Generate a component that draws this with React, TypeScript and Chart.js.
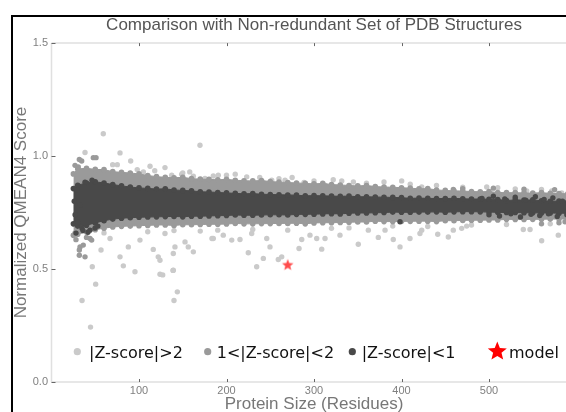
import React, { useEffect, useRef } from "react";
import { Chart, registerables } from "chart.js";

Chart.register(...registerables);

// ---------- data ----------
const xTickValues = [100, 200, 300, 400, 500];
const yTickValues = [0, 0.5, 1.0, 1.5];

// band sample positions (residues)
const bandX = [25, 30, 40, 50, 60, 70, 80, 90, 100, 110, 120, 130, 140, 150, 160, 170, 180, 190, 200, 210, 220, 230, 240, 250, 260, 270, 280, 290, 300, 310, 320, 330, 340, 350, 360, 370, 380, 390, 400, 410, 420, 430, 440, 450, 460, 470, 480, 490, 500, 510, 520, 530, 540, 550, 560, 570, 580, 590, 600];

// |Z-score|<1 core band edges
const darkTop = [0.856, 0.871, 0.881, 0.886, 0.881, 0.874, 0.868, 0.863, 0.859, 0.857, 0.854, 0.855, 0.85, 0.848, 0.846, 0.842, 0.841, 0.839, 0.837, 0.835, 0.833, 0.834, 0.831, 0.83, 0.829, 0.828, 0.827, 0.824, 0.825, 0.824, 0.823, 0.822, 0.823, 0.82, 0.82, 0.819, 0.818, 0.817, 0.816, 0.813, 0.814, 0.813, 0.812, 0.812, 0.813, 0.811, 0.81, 0.81, 0.809, 0.808, 0.803, 0.806, 0.805, 0.806, 0.802, 0.8, 0.801, 0.797, 0.795];
const darkBottom = [0.7, 0.69, 0.694, 0.704, 0.714, 0.721, 0.725, 0.727, 0.729, 0.73, 0.731, 0.732, 0.733, 0.731, 0.734, 0.734, 0.735, 0.736, 0.737, 0.739, 0.738, 0.738, 0.739, 0.74, 0.74, 0.739, 0.742, 0.742, 0.743, 0.744, 0.745, 0.744, 0.747, 0.748, 0.748, 0.749, 0.75, 0.752, 0.751, 0.751, 0.752, 0.752, 0.753, 0.751, 0.753, 0.754, 0.754, 0.753, 0.752, 0.751, 0.75, 0.75, 0.749, 0.749, 0.748, 0.748, 0.747, 0.747, 0.746];

// 1<|Z-score|<2 band edges
const medTop = [0.921, 0.943, 0.946, 0.941, 0.94, 0.931, 0.928, 0.925, 0.921, 0.914, 0.909, 0.906, 0.904, 0.906, 0.9, 0.898, 0.897, 0.895, 0.897, 0.893, 0.891, 0.89, 0.892, 0.887, 0.885, 0.883, 0.881, 0.879, 0.877, 0.879, 0.874, 0.872, 0.87, 0.868, 0.87, 0.865, 0.863, 0.862, 0.86, 0.858, 0.855, 0.856, 0.85, 0.848, 0.846, 0.845, 0.843, 0.842, 0.843, 0.839, 0.838, 0.838, 0.837, 0.836, 0.838, 0.835, 0.834, 0.833, 0.833];
const medBottom = [0.649, 0.654, 0.664, 0.674, 0.681, 0.686, 0.689, 0.69, 0.692, 0.693, 0.695, 0.695, 0.693, 0.696, 0.696, 0.697, 0.698, 0.698, 0.699, 0.702, 0.7, 0.7, 0.701, 0.701, 0.702, 0.702, 0.703, 0.7, 0.704, 0.705, 0.705, 0.706, 0.707, 0.708, 0.708, 0.712, 0.71, 0.71, 0.711, 0.711, 0.712, 0.712, 0.71, 0.714, 0.714, 0.715, 0.716, 0.716, 0.717, 0.717, 0.72, 0.719, 0.719, 0.72, 0.72, 0.721, 0.721, 0.722, 0.722];

// |Z-score|>2 points
const lightX = [59.2, 38.3, 78.3, 90.5, 69.9, 75.2, 112.6, 169.7, 129.7, 137.4, 148.8, 162.1, 175.4, 184.9, 190.6, 223.1, 251.7, 266.9, 288.6, 312.6, 331.7, 400.2, 423.1, 497.4, 543.1, 571.7, 583.1, 98,
  105, 118, 150, 158, 200, 210, 238, 260, 275, 300, 322, 345, 360, 380, 410, 440, 470, 510, 530, 560, 595,
  56.6, 78.3, 82.1, 95.4, 46.6, 50.5, 34.9, 44.6, 124, 127.1, 138.9, 143.8, 140, 116.3, 129.7, 141.1, 139.2, 156.3, 162.1, 152.6, 184.9, 196.3, 206, 215.4, 224.9, 228.8, 246, 249.7, 242.1, 234.5, 259.2, 263.1, 124, 139.2, 183.4, 282.9, 308.8, 286, 295.4, 303.1, 312.6, 329.7, 350.6, 362.1, 373.5, 381.2, 390.6, 398.3, 409.7, 421.1, 441.4, 453.5, 459.2, 468.8, 474.5, 539.2, 546.9, 560.2, 579.2, 423.1, 66.9, 87.8, 101.1, 122,
  60, 110, 140, 170, 190, 230, 270, 320, 340, 390, 430, 480, 520, 570, 600];
const lightY = [1.099, 1.016, 1.014, 0.978, 0.962, 0.962, 0.955, 1.048, 0.949, 0.915, 0.92, 0.911, 0.901, 0.912, 0.915, 0.908, 0.893, 0.893, 0.883, 0.871, 0.89, 0.89, 0.863, 0.863, 0.846, 0.846, 0.837, 0.94,
  0.93, 0.935, 0.925, 0.93, 0.915, 0.92, 0.905, 0.9, 0.905, 0.89, 0.895, 0.885, 0.88, 0.885, 0.875, 0.87, 0.862, 0.86, 0.855, 0.852, 0.85,
  0.584, 0.554, 0.514, 0.488, 0.51, 0.433, 0.361, 0.243, 0.477, 0.474, 0.494, 0.399, 0.361, 0.587, 0.657, 0.598, 0.569, 0.598, 0.576, 0.62, 0.635, 0.65, 0.628, 0.631, 0.572, 0.657, 0.635, 0.598, 0.547, 0.51, 0.542, 0.554, 0.539, 0.495, 0.635, 0.591, 0.588, 0.631, 0.65, 0.635, 0.635, 0.65, 0.61, 0.672, 0.64, 0.672, 0.631, 0.598, 0.635, 0.657, 0.654, 0.642, 0.672, 0.68, 0.69, 0.675, 0.675, 0.625, 0.65, 0.672, 0.635, 0.598, 0.628, 0.554,
  0.66, 0.665, 0.67, 0.668, 0.672, 0.675, 0.672, 0.68, 0.682, 0.69, 0.688, 0.695, 0.697, 0.7, 0.7];

// 1<|Z-score|<2 outlying points
const medX = [31.8, 34.5, 47.8, 50.9, 26.9, 30.6, 32.6, 38.3, 31.8, 45.9, 31.8, 36.3, 44, 28, 27, 40, 586.9, 459.2, 470, 505, 540, 575, 595, 560, 580, 595];
const medY = [0.985, 0.978, 0.993, 0.993, 0.959, 0.952, 0.598, 0.554, 0.561, 0.628, 0.584, 0.606, 0.635, 0.63, 0.66, 0.64, 0.709, 0.852, 0.856, 0.858, 0.853, 0.851, 0.85, 0.7, 0.705, 0.69];

// |Z-score|<1 outlying points
const darkX = [29.1, 32.6, 30.3, 34.9, 41.7, 28, 49.7, 38.3, 46.3, 27, 26, 36, 44, 53, 398.3,
  492, 500, 505, 512, 518, 525, 530, 536, 542, 548, 553, 558, 563, 568, 573, 578, 584, 589, 594, 598];
const darkY = [0.849, 0.782, 0.707, 0.681, 0.663, 0.659, 0.681, 0.884, 0.893, 0.74, 0.8, 0.67, 0.672, 0.69, 0.709,
  0.812, 0.74, 0.822, 0.735, 0.81, 0.745, 0.818, 0.73, 0.805, 0.742, 0.82, 0.737, 0.808, 0.745, 0.815, 0.733, 0.8, 0.74, 0.812, 0.75];

// the model
const modelX = [270];
const modelY = [0.52];

const legendLabels = ["|Z-score|>2", "1<|Z-score|<2", "|Z-score|<1", "model"];

// ---------- style ----------
const LIGHT = "#cacaca";
const MED = "#9a9a9a";
const DARK = "#494949";
const RED = "#ff0000";
const FONT = '"Liberation Sans", Arial, sans-serif';

const pts = (xs: number[], ys: number[]) => xs.map((x, i) => ({ x, y: ys[i] }));

function starPath(ctx: CanvasRenderingContext2D, cx: number, cy: number, R: number, r: number) {
  ctx.beginPath();
  for (let i = 0; i < 10; i++) {
    const rad = i % 2 === 0 ? R : r;
    const a = -Math.PI / 2 + (i * Math.PI) / 5;
    const px = cx + rad * Math.cos(a);
    const py = cy + rad * Math.sin(a);
    if (i === 0) ctx.moveTo(px, py);
    else ctx.lineTo(px, py);
  }
  ctx.closePath();
}

function makeStarImage() {
  const c = document.createElement("canvas");
  c.width = 14;
  c.height = 14;
  const g = c.getContext("2d")!;
  starPath(g, 7, 7.6, 6, 2.6);
  g.fillStyle = "rgba(255,30,30,0.8)";
  g.fill();
  return c;
}

const decorPlugin = {
  id: "decor",
  afterDraw(chart: any) {
    const { ctx, chartArea: a, scales } = chart;
    const xs = scales.x;
    const ys = scales.y;
    ctx.save();
    // frame lines
    ctx.strokeStyle = "#e0e0e0";
    ctx.lineWidth = 1.5;
    ctx.beginPath();
    ctx.moveTo(a.left, a.top);
    ctx.lineTo(a.right, a.top);
    ctx.moveTo(a.left, a.top);
    ctx.lineTo(a.left, a.bottom);
    ctx.moveTo(a.left, a.bottom);
    ctx.lineTo(a.right, a.bottom);
    ctx.stroke();
    // inside ticks
    ctx.strokeStyle = "#666";
    ctx.lineWidth = 1;
    ctx.beginPath();
    for (const v of xTickValues) {
      const px = Math.round(xs.getPixelForValue(v)) + 0.5;
      ctx.moveTo(px, a.top);
      ctx.lineTo(px, a.top + 3);
      ctx.moveTo(px, a.bottom);
      ctx.lineTo(px, a.bottom - 3);
    }
    for (const v of yTickValues) {
      const py = Math.round(ys.getPixelForValue(v)) + 0.5;
      ctx.moveTo(a.left, py);
      ctx.lineTo(a.left + 4, py);
    }
    ctx.stroke();

    // legend
    const markerX = [25.8, 156.2, 300.8];
    const textX = [37.5, 165.2, 310.2, 457.5];
    const colors = [LIGHT, MED, DARK];
    const my = a.bottom - 30.3;
    for (let i = 0; i < 3; i++) {
      ctx.beginPath();
      ctx.arc(a.left + markerX[i], my, 3.6, 0, Math.PI * 2);
      ctx.fillStyle = colors[i];
      ctx.fill();
    }
    starPath(ctx, a.left + 445.8, a.bottom - 30.5, 10, 4.4);
    ctx.fillStyle = RED;
    ctx.fill();
    ctx.fillStyle = "#111";
    ctx.font = '16px "DejaVu Sans", sans-serif';
    ctx.textAlign = "left";
    ctx.textBaseline = "alphabetic";
    for (let i = 0; i < 4; i++) {
      ctx.fillText(legendLabels[i], a.left + textX[i], a.bottom - 24.5);
    }
    ctx.restore();
  },
};

export default function App() {
  const ref = useRef<HTMLCanvasElement>(null);

  useEffect(() => {
    const star = makeStarImage();
    const chart = new Chart(ref.current!, {
      type: "scatter",
      data: {
        datasets: [
          {
            label: "light",
            data: pts(lightX, lightY),
            backgroundColor: LIGHT,
            pointRadius: 2.7,
            pointBorderWidth: 0,
            order: 9,
          },
          {
            type: "line",
            label: "medTop",
            data: pts(bandX, medTop),
            fill: "+1",
            backgroundColor: MED,
            borderColor: MED,
            borderWidth: 1,
            pointRadius: 2.8,
            pointBackgroundColor: MED,
            pointBorderWidth: 0,
            tension: 0,
            order: 8,
          },
          {
            type: "line",
            label: "medBottom",
            data: pts(bandX, medBottom),
            fill: false,
            borderColor: MED,
            borderWidth: 1,
            pointRadius: 2.8,
            pointBackgroundColor: MED,
            pointBorderWidth: 0,
            tension: 0,
            order: 8,
          },
          {
            label: "med",
            data: pts(medX, medY),
            backgroundColor: MED,
            pointRadius: 2.7,
            pointBorderWidth: 0,
            order: 7,
          },
          {
            type: "line",
            label: "darkTop",
            data: pts(bandX, darkTop),
            fill: "+1",
            backgroundColor: DARK,
            borderColor: DARK,
            borderWidth: 1,
            pointRadius: 2.8,
            pointBackgroundColor: DARK,
            pointBorderWidth: 0,
            tension: 0,
            order: 6,
          },
          {
            type: "line",
            label: "darkBottom",
            data: pts(bandX, darkBottom),
            fill: false,
            borderColor: DARK,
            borderWidth: 1,
            pointRadius: 2.8,
            pointBackgroundColor: DARK,
            pointBorderWidth: 0,
            tension: 0,
            order: 6,
          },
          {
            label: "dark",
            data: pts(darkX, darkY),
            backgroundColor: DARK,
            pointRadius: 2.7,
            pointBorderWidth: 0,
            order: 5,
          },
          {
            label: "model",
            data: pts(modelX, modelY),
            pointStyle: star as any,
            pointRadius: 6,
            order: 1,
          },
        ] as any,
      },
      options: {
        responsive: false,
        maintainAspectRatio: false,
        devicePixelRatio: 1,
        animation: false,
        events: [],
        layout: { padding: { left: 0, right: 51.5, top: 0, bottom: 0 } },
        plugins: {
          legend: { display: false },
          tooltip: { enabled: false },
          title: {
            display: true,
            fullSize: false,
            text: "Comparison with Non-redundant Set of PDB Structures",
            color: "#555",
            font: { family: FONT, size: 17, weight: "normal" },
            padding: { top: 14.8, bottom: 7.9 },
          },
        },
        scales: {
          x: {
            type: "linear",
            position: "bottom",
            min: 0,
            max: 600,
            afterFit: (s: any) => {
              s.height = 48;
            },
            afterBuildTicks: (s: any) => {
              s.ticks = xTickValues.map((v) => ({ value: v }));
            },
            grid: { display: false, drawTicks: false },
            border: { display: false },
            ticks: {
              color: "#808080",
              font: { family: FONT, size: 11 },
              padding: 2,
              autoSkip: false,
              maxRotation: 0,
            },
            title: {
              display: true,
              text: "Protein Size (Residues)",
              color: "#777",
              font: { family: FONT, size: 17 },
              padding: { top: 0, bottom: 15 },
            },
          },
          y: {
            type: "linear",
            min: 0,
            max: 1.5,
            afterFit: (s: any) => {
              s.width = 51.5;
            },
            afterBuildTicks: (s: any) => {
              s.ticks = yTickValues.map((v) => ({ value: v }));
            },
            grid: { display: false, drawTicks: false },
            border: { display: false },
            ticks: {
              color: "#808080",
              font: { family: FONT, size: 11 },
              padding: 3.5,
              callback: (v: any) => Number(v).toFixed(1),
            },
            title: {
              display: true,
              text: "Normalized QMEAN4 Score",
              color: "#777",
              font: { family: FONT, size: 17 },
              padding: { top: 11, bottom: 0 },
            },
          },
        },
      } as any,
      plugins: [decorPlugin],
    });
    return () => chart.destroy();
  }, []);

  return (
    <div
      style={{
        position: "fixed",
        left: 0,
        top: 0,
        width: 566,
        height: 412,
        overflow: "hidden",
        background: "#fff",
      }}
    >
      <div
        style={{
          position: "absolute",
          left: 11,
          top: 15,
          width: 700,
          height: 500,
          borderLeft: "2px solid #000",
          borderTop: "2px solid #000",
        }}
      />
      <canvas
        ref={ref}
        width={628}
        height={430}
        style={{ position: "absolute", left: 0, top: 0, width: 628, height: 430 }}
      />
    </div>
  );
}
